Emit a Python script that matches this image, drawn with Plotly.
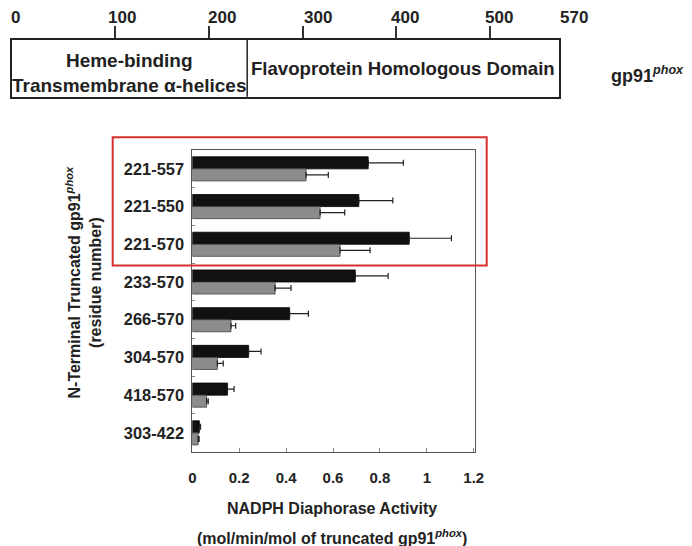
import plotly.graph_objects as go

# ---------------- data ----------------
categories = ["221-557", "221-550", "221-570", "233-570", "266-570", "304-570", "418-570", "303-422"]
black_vals = [0.75, 0.71, 0.925, 0.695, 0.415, 0.24, 0.15, 0.03]
black_err = [0.15, 0.145, 0.18, 0.14, 0.08, 0.053, 0.028, 0.005]
gray_vals = [0.485, 0.545, 0.63, 0.353, 0.165, 0.107, 0.061, 0.025]
gray_err = [0.095, 0.105, 0.128, 0.068, 0.02, 0.025, 0.007, 0.004]
x_ticks = [0, 0.2, 0.4, 0.6, 0.8, 1, 1.2]
x_ticktext = ["0", "0.2", "0.4", "0.6", "0.8", "1", "1.2"]

ruler_ticks = [100, 200, 300, 400, 500]
ruler_labels = [0, 100, 200, 300, 400, 500, 570]
domain_boundary = 241
domain_names = ["Heme-binding<br>Transmembrane α-helices", "Flavoprotein Homologous Domain"]

W, H = 692, 546
FONT = "Liberation Sans, Arial, sans-serif"


def px(x):
    return x / W


def py(y):
    return 1 - y / H


fig = go.Figure()

fig.add_trace(go.Bar(
    y=categories, x=black_vals, orientation="h",
    marker=dict(color="#111111", line=dict(color="#000000", width=0.8)),
    error_x=dict(type="data", symmetric=False, array=black_err,
                 arrayminus=[0] * len(black_err), color="#222222", thickness=1.2, width=3),
    showlegend=False,
))
fig.add_trace(go.Bar(
    y=categories, x=gray_vals, orientation="h",
    marker=dict(color="#8c8c8c", line=dict(color="#444444", width=0.8)),
    error_x=dict(type="data", symmetric=False, array=gray_err,
                 arrayminus=[0] * len(gray_err), color="#222222", thickness=1.2, width=3),
    showlegend=False,
))

# top ruler axis (invisible data holder)
fig.add_trace(go.Scatter(x=[0, 570], y=[0.5, 0.5], xaxis="x2", yaxis="y2",
                         mode="markers", marker=dict(opacity=0), showlegend=False,
                         hoverinfo="skip"))

fig.update_layout(
    width=W, height=H,
    margin=dict(l=0, r=0, t=0, b=0),
    paper_bgcolor="white", plot_bgcolor="white",
    barmode="group", bargap=0.36, bargroupgap=0,
    font=dict(family=FONT, color="#222222"),
    xaxis=dict(
        domain=[px(192.3), px(475)], range=[0, 1.2055], anchor="y",
        tickvals=x_ticks, ticktext=x_ticktext,
        ticks="inside", ticklen=4, tickcolor="#888888",
        tickfont=dict(size=15, family=FONT, weight="bold", color="#222222"),
        ticklabelstandoff=12,
        showline=True, mirror=True, linecolor="#555555", linewidth=1,
        showgrid=False, zeroline=False, automargin=False,
    ),
    yaxis=dict(
        domain=[py(451.7), py(150)], anchor="x",
        categoryorder="array", categoryarray=categories, autorange="reversed",
        ticks="inside", tickson="boundaries", ticklen=3, tickcolor="#888888",
        tickfont=dict(size=16.4, family=FONT, weight="bold", color="#222222"),
        ticklabelstandoff=4,
        showline=True, mirror=True, linecolor="#555555", linewidth=1,
        showgrid=False, zeroline=False, automargin=False,
    ),
    xaxis2=dict(
        domain=[px(11.7), px(559.3)], range=[-10.2, 573.9], anchor="y2",
        side="top", tickvals=ruler_ticks, showticklabels=False,
        ticks="outside", ticklen=12, tickwidth=1.5, tickcolor="#333333",
        showline=True, mirror=True, linecolor="#222222", linewidth=1.5,
        showgrid=False, zeroline=False, automargin=False,
    ),
    yaxis2=dict(
        domain=[py(96.7), py(40)], range=[0, 1], anchor="x2",
        showticklabels=False, ticks="",
        showline=True, mirror=True, linecolor="#222222", linewidth=1.5,
        showgrid=False, zeroline=False, automargin=False,
    ),
)

# domain divider
fig.add_shape(type="line", xref="x2", yref="y2 domain",
              x0=domain_boundary, x1=domain_boundary, y0=0, y1=1,
              line=dict(color="#222222", width=1.5))

# ruler labels
label_shift = [-6, 7, 13, 15, 9, 9, 18]
for v, s in zip(ruler_labels, label_shift):
    fig.add_annotation(x=v, xref="x2", y=py(18), yref="paper", text=str(v),
                       showarrow=False, xshift=s, xanchor="center", yanchor="middle",
                       font=dict(size=17, family=FONT, weight="bold", color="#222222"))

# domain names
fig.add_annotation(x=(-10.2 + domain_boundary) / 2, xref="x2", y=py(73), yref="paper",
                   text=domain_names[0], showarrow=False, align="center",
                   xanchor="center", yanchor="middle",
                   font=dict(size=19, family=FONT, weight="bold", color="#222222"))
fig.add_annotation(x=(domain_boundary + 573.9) / 2, xref="x2", y=py(68), yref="paper",
                   text=domain_names[1], showarrow=False,
                   xanchor="center", yanchor="middle",
                   font=dict(size=18.6, family=FONT, weight="bold", color="#222222"))

fig.add_annotation(x=px(647), xref="paper", y=py(75), yref="paper",
                   text="gp91<sup><i>phox</i></sup>", showarrow=False,
                   xanchor="center", yanchor="middle",
                   font=dict(size=18, family=FONT, weight="bold", color="#222222"))

# axis titles
fig.add_annotation(x=px(83.5), xref="paper", y=py(282), yref="paper",
                   text="N-Terminal Truncated gp91<sup><i>phox</i></sup><br>(residue number)",
                   textangle=-90, showarrow=False, align="center",
                   xanchor="center", yanchor="middle",
                   font=dict(size=16, family=FONT, weight="bold", color="#222222"))
fig.add_annotation(x=px(331.5), xref="paper", y=py(508), yref="paper",
                   text="NADPH Diaphorase Activity", showarrow=False,
                   xanchor="center", yanchor="middle",
                   font=dict(size=16, family=FONT, weight="bold", color="#222222"))
fig.add_annotation(x=px(331.5), xref="paper", y=py(536.5), yref="paper",
                   text="(mol/min/mol of truncated gp91<sup><i>phox</i></sup>)", showarrow=False,
                   xanchor="center", yanchor="middle",
                   font=dict(size=16, family=FONT, weight="bold", color="#222222"))

# red highlight box
fig.add_shape(type="rect", xref="paper", yref="paper",
              x0=px(112.7), x1=px(486.7), y0=py(265.5), y1=py(137.3),
              line=dict(color="#d6302c", width=2), fillcolor="rgba(0,0,0,0)")

fig.write_html("out.html", config={"displayModeBar": False},
               post_script="document.body.style.margin='0';document.body.style.overflow='hidden';")
